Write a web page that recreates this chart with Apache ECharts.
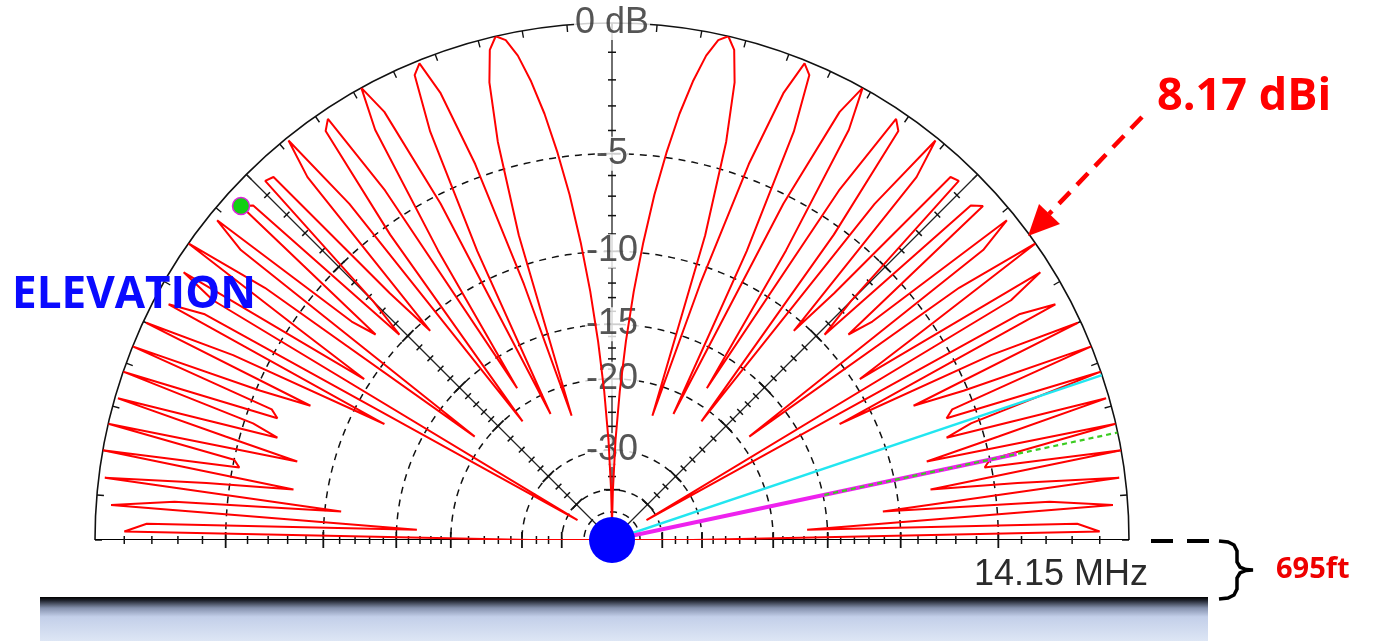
<!DOCTYPE html>
<html>
<head>
<meta charset="utf-8">
<title>Elevation pattern 14.15 MHz</title>
<script src="https://cdn.jsdelivr.net/npm/echarts@6/dist/echarts.min.js"></script>
<style>
  html, body { margin: 0; padding: 0; background: #fff; }
  #chart { width: 1376px; height: 641px; }
</style>
</head>
<body>
<div id="chart"></div>
<script>
// Elevation pattern, gain in dB relative to the 8.17 dBi maximum, sampled every degree.
// Front half: elevation 0..90 deg measured from the right-hand horizon.
const frontGainDb = [
  -32, -1.0, -1.8, -16.7, -0.5, -2.8, -11.0, -0.2, -4.0, -8.1,
  -0.0, -5.3, -5.0, -0.0, -8.0, -4.4, -0.1, -6.7, -5.4, -0.0,
  -6.4, -6.0, 0.0, -5.2, -7.7, -0.1, -3.5, -12.1, -0.5, -1.8,
  -44, -1.8, -0.4, -9.6, -5.3, -0.0, -3.2, -18.9, -1.6, -0.3,
  -7.2, -8.6, -0.6, -0.9, -9.6, -7.3, -0.6, -0.7, -7.6, -10.7,
  -1.5, -0.1, -3.3, -21.4, -5.4, -0.6, -0.3, -3.7, -18.2, -7.3,
  -1.5, 0.0, -1.1, -5.4, -22.4, -8.3, -2.5, -0.4, -0.1, -1.3,
  -4.4, -11.1, -23.6, -8.3, -3.8, -1.5, -0.4, 0.0, -0.2, -0.8,
  -1.8, -3.1, -4.8, -6.8, -9.4, -12.5, -16.4, -21.3, -28.3, -40.4,
  -60
];
// Back half: elevation 0..90 deg measured from the left-hand horizon.
const backGainDb = [
  -32, -1.0, -1.8, -16.7, -0.5, -2.8, -11.0, -0.2, -4.0, -8.1,
  -0.0, -5.3, -5.0, -0.0, -8.0, -4.4, -0.1, -6.7, -5.4, -0.0,
  -6.4, -6.0, 0.0, -5.2, -7.7, -0.1, -3.5, -12.1, -0.5, -1.8,
  -44, -1.8, -0.4, -9.6, -5.3, -0.0, -3.2, -18.9, -1.6, -0.3,
  -7.2, -8.6, -0.6, -0.9, -9.6, -7.3, -0.6, -0.7, -7.6, -10.7,
  -1.5, -0.1, -3.3, -21.4, -5.4, -0.6, -0.3, -3.7, -18.2, -7.3,
  -1.5, 0.0, -1.1, -5.4, -22.4, -8.3, -2.5, -0.4, -0.1, -1.3,
  -4.4, -11.1, -23.6, -8.3, -3.8, -1.5, -0.4, 0.0, -0.2, -0.8,
  -1.8, -3.1, -4.8, -6.8, -9.4, -12.5, -16.4, -21.3, -28.3, -40.4,
  -60
];

// Grid rings and their labels (dB)
const ringDb = [-5, -10, -15, -20, -30, -40, -50];
const ringLabelDb = [0, -5, -10, -15, -20, -30];
const ringLabelText = ['0 dB', '-5', '-10', '-15', '-20', '-30'];
// Radial reference lines (deg) and their tick marks (dB)
const radialDeg = [0, 45, 90, 135, 180];
const majorTickDb = [-5, -10, -15, -20, -30, -40];
const minorTickDb = [-1, -2, -3, -4, -6, -7, -8, -9, -11, -12, -13, -14,
                     -16, -17, -18, -19, -22, -24, -26, -28, -33, -36];

// Overlay rays: angle (deg) and radial extent (fraction of full scale)
const cyanRay = { angle: 18.6, from: 0, to: 1 };
const magentaRay = { angle: 12.0, from: 0, to: 0.8 };
const greenRay = { angle: 12.0, from: 0.42, to: 1 };
// Cursor on the back lobe at 42 deg elevation
const cursorAngle = 138;
const cursorDb = -0.6;

// ARRL log scale: radius shrinks by 0.89 for every 2 dB
function arrl(db) { return Math.pow(0.89, -db / 2); }

const patternData = [[0, 0]];
frontGainDb.forEach((g, el) => patternData.push([arrl(g), el]));
for (let el = 89; el >= 0; el--) patternData.push([arrl(backGainDb[el]), 180 - el]);
patternData.push([0, 180]);

const series = [];

ringDb.forEach(db => {
  const d = [];
  for (let a = 0; a <= 180; a += 1) d.push([arrl(db), a]);
  series.push({
    type: 'line', coordinateSystem: 'polar', data: d, symbol: 'none', silent: true, z: 1,
    lineStyle: { color: '#111', width: 1.5, type: [7, 6] }
  });
});

radialDeg.forEach(a => {
  series.push({
    type: 'line', coordinateSystem: 'polar', data: [[0, a], [1, a]], symbol: 'none', silent: true, z: 2,
    lineStyle: { color: (a === 0 || a === 180) ? '#000' : '#222', width: (a === 0 || a === 180) ? 2 : 1.3 }
  });
});

const tickData = [];
radialDeg.forEach(a => {
  majorTickDb.forEach(db => tickData.push({ value: [arrl(db), a], symbolSize: [1.8, 16], symbolRotate: a }));
  minorTickDb.forEach(db => tickData.push({ value: [arrl(db), a], symbolSize: [1.5, 8], symbolRotate: a }));
});
series.push({
  type: 'scatter', coordinateSystem: 'polar', data: tickData, symbol: 'rect', silent: true, z: 2,
  itemStyle: { color: '#111', opacity: 1 }
});

series.push({
  type: 'scatter', coordinateSystem: 'polar', silent: true, z: 3,
  symbolSize: 1, itemStyle: { color: 'rgba(0,0,0,0)' },
  data: ringLabelDb.map((db, i) => ({ value: [arrl(db), 90], name: ringLabelText[i] })),
  label: {
    show: true, position: 'inside', formatter: p => p.name,
    fontFamily: "'Liberation Sans Narrow', 'Liberation Sans', Arial, sans-serif",
    fontSize: 36, color: '#2b2b2b', backgroundColor: '#fff', padding: [0, 1], lineHeight: 34
  }
});

series.push({
  type: 'line', coordinateSystem: 'polar', data: patternData, symbol: 'none', silent: true, z: 4,
  lineStyle: { color: '#ff0000', width: 2 }
});

series.push({
  type: 'line', coordinateSystem: 'polar', symbol: 'none', silent: true, z: 5,
  data: [[cyanRay.from, cyanRay.angle], [cyanRay.to, cyanRay.angle]],
  lineStyle: { color: '#22e6f0', width: 2.4 }
});
series.push({
  type: 'line', coordinateSystem: 'polar', symbol: 'none', silent: true, z: 5,
  data: [[magentaRay.from, magentaRay.angle], [magentaRay.to, magentaRay.angle]],
  lineStyle: { color: '#ee22ee', width: 4 }
});
series.push({
  type: 'line', coordinateSystem: 'polar', symbol: 'none', silent: true, z: 6,
  data: [[greenRay.from, greenRay.angle], [greenRay.to, greenRay.angle]],
  lineStyle: { color: '#3ccc22', width: 2.2, type: [5, 4] }
});

series.push({
  type: 'scatter', coordinateSystem: 'polar', silent: true, z: 7,
  data: [[arrl(cursorDb), cursorAngle]], symbol: 'circle', symbolSize: 17,
  itemStyle: { color: '#12d012', borderColor: '#e020e0', borderWidth: 1.5, opacity: 1 }
});
series.push({
  type: 'scatter', coordinateSystem: 'polar', silent: true, z: 8,
  data: [[0, 90]], symbol: 'circle', symbolSize: 46,
  itemStyle: { color: '#0000ff', opacity: 1 }
});

const chart = echarts.init(document.getElementById('chart'), null, { renderer: 'canvas' });
chart.setOption({
  animation: false,
  backgroundColor: '#fff',
  polar: { center: [612, 540], radius: 517 },
  angleAxis: {
    type: 'value', min: 0, max: 180, interval: 5,
    startAngle: 0, endAngle: 180, clockwise: false,
    axisLine: { show: true, lineStyle: { color: '#111', width: 1.6 } },
    axisTick: { show: true, inside: true, length: 7, lineStyle: { color: '#111', width: 1.4 } },
    axisLabel: { show: false },
    splitLine: { show: false }
  },
  radiusAxis: {
    type: 'value', min: 0, max: 1,
    axisLine: { show: false }, axisTick: { show: false },
    axisLabel: { show: false }, splitLine: { show: false }
  },
  series: series,
  graphic: [
    {
      type: 'rect', silent: true, z: 0,
      shape: { x: 40, y: 597, width: 1168, height: 44 },
      style: {
        fill: {
          type: 'linear', x: 0, y: 0, x2: 0, y2: 1,
          colorStops: [
            { offset: 0, color: '#000000' },
            { offset: 0.08, color: '#20242e' },
            { offset: 0.25, color: '#8591ad' },
            { offset: 0.45, color: '#c3cfe9' },
            { offset: 1, color: '#dde6f5' }
          ]
        }
      }
    },
    {
      type: 'text', silent: true, z: 10,
      style: {
        text: 'ELEVATION', x: 12, y: 295, textAlign: 'left', textVerticalAlign: 'middle',
        font: 'bold 44px "Open Sans", "Noto Sans", sans-serif', fill: '#0a0aff'
      }
    },
    {
      type: 'text', silent: true, z: 10,
      style: {
        text: '8.17 dBi', x: 1157, y: 97, textAlign: 'left', textVerticalAlign: 'middle',
        font: 'bold 45px "Open Sans", "Noto Sans", sans-serif', fill: '#ff0000'
      }
    },
    {
      type: 'line', silent: true, z: 10,
      shape: { x1: 1142, y1: 117, x2: 1049, y2: 214 },
      style: { stroke: '#ff0000', lineWidth: 4.5, lineDash: [16, 10] }
    },
    {
      type: 'polygon', silent: true, z: 10,
      shape: { points: [[1028, 236], [1039, 204], [1060, 224]] },
      style: { fill: '#ff0000' }
    },
    {
      type: 'text', silent: true, z: 10,
      style: {
        text: '14.15 MHz', x: 1148, y: 575, textAlign: 'right', textVerticalAlign: 'middle',
        font: '36px "Liberation Sans Narrow", "Liberation Sans", Arial, sans-serif', fill: '#2b2b2b'
      }
    },
    {
      type: 'line', silent: true, z: 10,
      shape: { x1: 1151, y1: 541, x2: 1210, y2: 541 },
      style: { stroke: '#000', lineWidth: 4, lineDash: [22, 14] }
    },
    {
      // curly brace spanning the mast height
      type: 'polyline', silent: true, z: 10,
      shape: {
        points: [[1219, 541], [1228, 542], [1234, 545], [1237, 551], [1237, 562], [1240, 567],
                 [1246, 569.5], [1253, 570], [1246, 570.5], [1240, 573], [1237, 578], [1237, 589],
                 [1234, 595], [1228, 598], [1219, 599]]
      },
      style: { stroke: '#000', lineWidth: 3.5, fill: null }
    },
    {
      type: 'text', silent: true, z: 10,
      style: {
        text: '695ft', x: 1276, y: 570, textAlign: 'left', textVerticalAlign: 'middle',
        font: 'bold 29px "Open Sans", "Noto Sans", sans-serif', fill: '#ee0000'
      }
    }
  ]
});
</script>
</body>
</html>
